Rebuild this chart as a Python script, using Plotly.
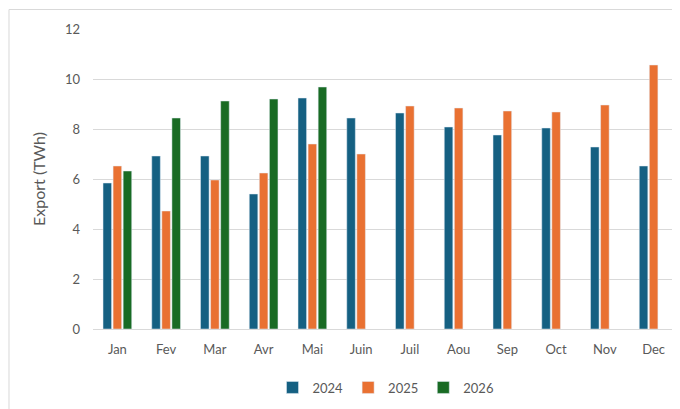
import plotly.graph_objects as go

months = ["Jan", "Fev", "Mar", "Avr", "Mai", "Juin", "Juil", "Aou", "Sep", "Oct", "Nov", "Dec"]
y2024 = [5.84, 6.92, 6.92, 5.4, 9.24, 8.44, 8.64, 8.08, 7.76, 8.04, 7.28, 6.52]
y2025 = [6.52, 4.72, 5.96, 6.24, 7.4, 7.0, 8.92, 8.84, 8.72, 8.68, 8.96, 10.56]
y2026 = [6.32, 8.44, 9.12, 9.2, 9.68]

fig = go.Figure()
fig.add_bar(x=months, y=y2024, name="2024", marker_color="#156082")
fig.add_bar(x=months, y=y2025, name="2025", marker_color="#E97132")
fig.add_bar(x=months[:len(y2026)], y=y2026, name="2026", marker_color="#196B24")

fig.update_layout(
    width=680, height=409,
    barmode="group", bargap=0.38, bargroupgap=0.15,
    plot_bgcolor="white", paper_bgcolor="white",
    font=dict(family="Lato, Open Sans, sans-serif", size=13, color="#595959"),
    margin=dict(l=85, r=10, t=21, b=88),
    legend=dict(orientation="h", x=0.5, xanchor="center", y=-0.195, yanchor="middle", font_size=13),
    yaxis=dict(title="Export (TWh)", range=[0, 12], dtick=2, gridcolor="#D9D9D9",
               zeroline=False, showline=False, ticklabelstandoff=12),
    xaxis=dict(showline=True, linecolor="#D9D9D9", ticklabelstandoff=8),
    shapes=[dict(type="rect", xref="paper", yref="paper", x0=-0.1436, y0=-0.285, x1=1.0137, y1=1.065,
                 line=dict(color="#D9D9D9", width=1))],
)
fig.write_html("out.html")
